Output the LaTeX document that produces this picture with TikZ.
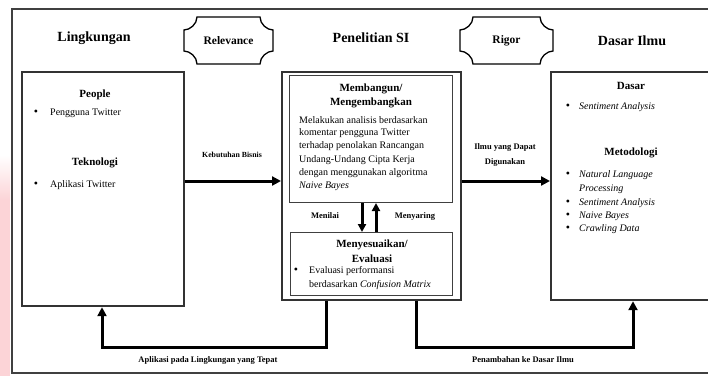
\documentclass[tikz,border=0pt]{standalone}
\usepackage{fontspec}
\setmainfont{Liberation Serif}
\usetikzlibrary{arrows.meta,calc}
\newcommand\myplaque[5]{%
 \draw[line width=1.3pt] (#1+#5,#2) -- (#3-#5,#2)
   .. controls (#3-#5,#2+0.55*#5) and (#3-0.45*#5,#2+#5) .. (#3,#2+#5)
   -- (#3,#4-#5)
   .. controls (#3-0.45*#5,#4-#5) and (#3-#5,#4-0.55*#5) .. (#3-#5,#4)
   -- (#1+#5,#4)
   .. controls (#1+#5,#4-0.55*#5) and (#1+0.45*#5,#4-#5) .. (#1,#4-#5)
   -- (#1,#2+#5)
   .. controls (#1+0.45*#5,#2+#5) and (#1+#5,#2+0.55*#5) .. cycle;}
\definecolor{pinkish}{RGB}{252,212,215}
\begin{document}
\begin{tikzpicture}[x=1pt,y=-1pt,
 frame/.style={draw=black!75, line width=1.5pt},
 bigbox/.style={draw=black!80, line width=2.2pt, inner sep=0, anchor=north west},
 inbox/.style={draw=black!75, line width=1pt, inner sep=0, anchor=north west},
 title/.style={font=\fontsize{14}{16}\selectfont\bfseries, inner sep=0},
 head/.style={font=\fontsize{11}{13}\selectfont\bfseries, inner sep=0},
 body/.style={font=\fontsize{10}{12}\selectfont, anchor=west, inner sep=0},
 bul/.style={font=\fontsize{12}{12}\selectfont, inner sep=0},
 lab/.style={font=\fontsize{8.5}{15}\selectfont\bfseries, align=center, inner sep=0},
 flow/.style={line width=3pt, -{Triangle[length=9pt,width=9pt]}},
 flows/.style={line width=3pt, -{Triangle[length=8pt,width=8pt]}}
]
\useasboundingbox (0,0) rectangle (708,376);
\clip (0,0) rectangle (708,376);
% left edge tint
\shade[top color=white, bottom color=pinkish] (0,155) rectangle (10,200);
\fill[pinkish] (0,200) rectangle (10,376);
% outer frame
\draw[frame] (12,9) rectangle (730,373);
% titles
\node[title] (tenv) at (94,38) {Lingkungan};
\node[title] (tpen) at (371,38) {Penelitian SI};
\node[title] (tdas) at (632,41) {Dasar Ilmu};
\myplaque{184}{17}{273}{64}{13}
\node[head, font=\fontsize{11.5}{13}\selectfont\bfseries] (rel) at (228.5,41) {Relevance};
\myplaque{460}{17}{553}{64}{13}
\node[head, font=\fontsize{11.5}{13}\selectfont\bfseries] (rig) at (506.5,41) {Rigor};
% boxes
\node[bigbox, minimum width=162pt, minimum height=234pt] (env) at (21,71) {};
\node[bigbox, minimum width=179pt, minimum height=228pt] (mid) at (281,71) {};
\node[inbox, minimum width=163pt, minimum height=127pt] (top) at (289,75) {};
\node[inbox, minimum width=162pt, minimum height=63pt] (bot) at (290,232) {};
\node[bigbox, minimum width=190pt, minimum height=228pt] (kb) at (550,71) {};
% left box content
\node[head] (people) at (95,95) {People};
\node[bul] (b1) at (36,113) {•};
\node[body] (p1) at (50,113) {Pengguna Twitter};
\node[head] (tek) at (95,163) {Teknologi};
\node[bul] (b2) at (36,185) {•};
\node[body] (p2) at (50,185) {Aplikasi Twitter};
% middle top content
\node[head] (mb1) at (371,89) {Membangun/};
\node[head] (mb2) at (371,103) {Mengembangkan};
\node[body] (l1) at (299,120) {Melakukan analisis berdasarkan};
\node[body] (l2) at (299,133.3) {komentar pengguna Twitter};
\node[body] (l3) at (299,146.6) {terhadap penolakan Rancangan};
\node[body] (l4) at (299,160) {Undang-Undang Cipta Kerja};
\node[body] (l5) at (299,173.3) {dengan menggunakan algoritma};
\node[body] (l6) at (299,186.6) {\textit{Naive Bayes}};
% middle bottom content
\node[head] (ms1) at (372,245) {Menyesuaikan/};
\node[head] (ms2) at (372,259) {Evaluasi};
\node[bul] (b3) at (296,271) {•};
\node[body] (e1) at (309,271) {Evaluasi performansi};
\node[body] (e2) at (309,285) {berdasarkan \textit{Confusion Matrix}};
% right box content
\node[head] (das) at (631,86) {Dasar};
\node[bul] (b4) at (568,107) {•};
\node[body] (d1) at (579,107) {\textit{Sentiment Analysis}};
\node[head] (met) at (631,153) {Metodologi};
\node[bul] (b5) at (568,175) {•};
\node[body] (m1) at (579,175) {\textit{Natural Language}};
\node[body] (m2) at (579,189) {\textit{Processing}};
\node[bul] (b6) at (568,203) {•};
\node[body] (m3) at (579,203) {\textit{Sentiment Analysis}};
\node[bul] (b7) at (568,216) {•};
\node[body] (m4) at (579,216) {\textit{Naive Bayes}};
\node[bul] (b8) at (568,229) {•};
\node[body] (m5) at (579,229) {\textit{Crawling Data}};
% helper coordinates
\coordinate (ya) at (0,181);
\coordinate (yb) at (0,347);
\coordinate (xa) at (362,0);
\coordinate (xb) at (376,0);
\coordinate (xl) at (326,0);
\coordinate (xr) at (416,0);
\coordinate (xe) at (102,0);
\coordinate (xk) at (633,0);
% connectors
\draw[flow] (env.east |- ya) -- (mid.west |- ya);
\draw[flow] (mid.east |- ya) -- (kb.west |- ya);
\draw[flows] (top.south -| xa) -- (bot.north -| xa);
\draw[flows] (bot.north -| xb) -- (top.south -| xb);
\draw[flow] (mid.south -| xl) |- (yb -| xe) -- (env.south -| xe);
\draw[flow] (mid.south -| xr) |- (yb -| xk) -- (kb.south -| xk);
% connector labels
\node[lab, font=\fontsize{7.8}{11}\selectfont\bfseries] (lkb) at (232,155) {Kebutuhan Bisnis};
\node[lab] (lil) at (505,155) {Ilmu yang Dapat\\Digunakan};
\node[lab] (lmn) at (325,216) {Menilai};
\node[lab] (lmy) at (415,216) {Menyaring};
\node[lab] (lap) at (208,360) {Aplikasi pada Lingkungan yang Tepat};
\node[lab] (lpe) at (523,360) {Penambahan ke Dasar Ilmu};
\end{tikzpicture}
\end{document}
